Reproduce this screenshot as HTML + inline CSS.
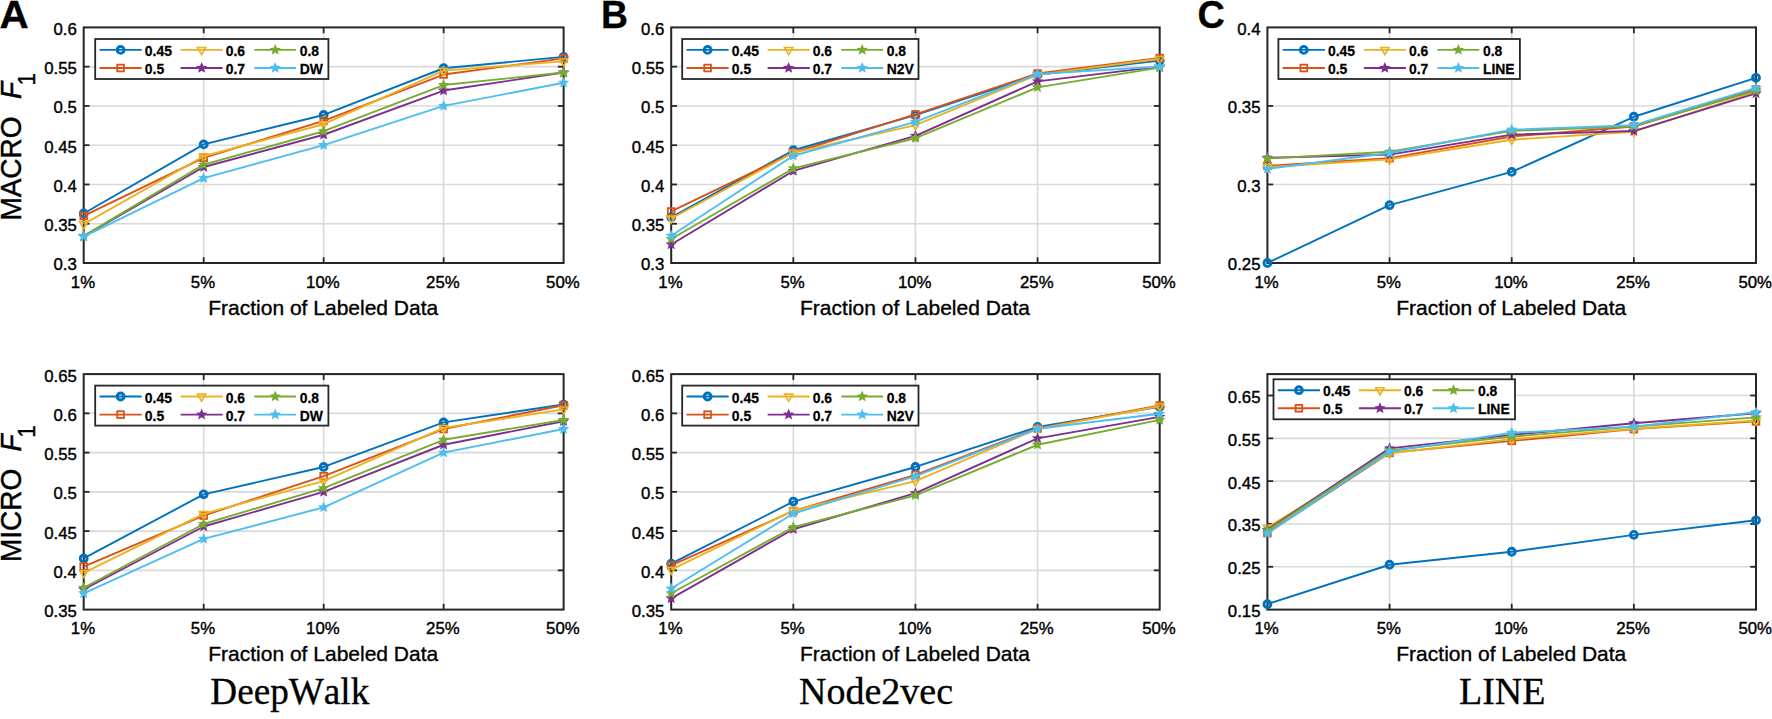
<!DOCTYPE html>
<html><head><meta charset="utf-8"><title>Figure</title>
<style>
html,body{margin:0;padding:0;background:#fff;}
svg{display:block;}
text{font-family:"Liberation Sans",sans-serif;fill:#000;}
.tk{font-size:16.8px;fill:#000;stroke:#000;stroke-width:0.4px;}
.xl{font-size:21px;stroke:#000;stroke-width:0.35px;}
.yl{font-size:28px;white-space:pre;stroke:#000;stroke-width:0.4px;}
.lg{font-size:14.5px;font-weight:bold;stroke:#000;stroke-width:0.25px;}
.pl{font-size:38.2px;font-weight:bold;stroke:#000;stroke-width:0.3px;}
.tt{font-family:"Liberation Serif",serif;font-size:37px;font-kerning:none;stroke:#000;stroke-width:0.3px;}
</style></head><body>
<svg width="1772" height="719" viewBox="0 0 1772 719">
<rect width="1772" height="719" fill="#fff"/>
<line x1="203.68" y1="27.4" x2="203.68" y2="263.0" stroke="#d9d9d9" stroke-width="1.6"/>
<line x1="323.65" y1="27.4" x2="323.65" y2="263.0" stroke="#d9d9d9" stroke-width="1.6"/>
<line x1="443.62" y1="27.4" x2="443.62" y2="263.0" stroke="#d9d9d9" stroke-width="1.6"/>
<line x1="83.7" y1="223.73" x2="563.6" y2="223.73" stroke="#d9d9d9" stroke-width="1.6"/>
<line x1="83.7" y1="184.47" x2="563.6" y2="184.47" stroke="#d9d9d9" stroke-width="1.6"/>
<line x1="83.7" y1="145.20" x2="563.6" y2="145.20" stroke="#d9d9d9" stroke-width="1.6"/>
<line x1="83.7" y1="105.93" x2="563.6" y2="105.93" stroke="#d9d9d9" stroke-width="1.6"/>
<line x1="83.7" y1="66.67" x2="563.6" y2="66.67" stroke="#d9d9d9" stroke-width="1.6"/>
<line x1="203.68" y1="263.0" x2="203.68" y2="257.2" stroke="#262626" stroke-width="1.8"/>
<line x1="203.68" y1="27.4" x2="203.68" y2="33.199999999999996" stroke="#262626" stroke-width="1.8"/>
<line x1="323.65" y1="263.0" x2="323.65" y2="257.2" stroke="#262626" stroke-width="1.8"/>
<line x1="323.65" y1="27.4" x2="323.65" y2="33.199999999999996" stroke="#262626" stroke-width="1.8"/>
<line x1="443.62" y1="263.0" x2="443.62" y2="257.2" stroke="#262626" stroke-width="1.8"/>
<line x1="443.62" y1="27.4" x2="443.62" y2="33.199999999999996" stroke="#262626" stroke-width="1.8"/>
<line x1="83.7" y1="223.73" x2="89.5" y2="223.73" stroke="#262626" stroke-width="1.8"/>
<line x1="563.6" y1="223.73" x2="557.8000000000001" y2="223.73" stroke="#262626" stroke-width="1.8"/>
<line x1="83.7" y1="184.47" x2="89.5" y2="184.47" stroke="#262626" stroke-width="1.8"/>
<line x1="563.6" y1="184.47" x2="557.8000000000001" y2="184.47" stroke="#262626" stroke-width="1.8"/>
<line x1="83.7" y1="145.20" x2="89.5" y2="145.20" stroke="#262626" stroke-width="1.8"/>
<line x1="563.6" y1="145.20" x2="557.8000000000001" y2="145.20" stroke="#262626" stroke-width="1.8"/>
<line x1="83.7" y1="105.93" x2="89.5" y2="105.93" stroke="#262626" stroke-width="1.8"/>
<line x1="563.6" y1="105.93" x2="557.8000000000001" y2="105.93" stroke="#262626" stroke-width="1.8"/>
<line x1="83.7" y1="66.67" x2="89.5" y2="66.67" stroke="#262626" stroke-width="1.8"/>
<line x1="563.6" y1="66.67" x2="557.8000000000001" y2="66.67" stroke="#262626" stroke-width="1.8"/>
<rect x="83.7" y="27.4" width="479.90" height="235.60" fill="none" stroke="#262626" stroke-width="2.0"/>
<text transform="translate(76.85,270.45) scale(1,1.005)" text-anchor="end" class="tk">0.3</text>
<text transform="translate(76.85,231.18) scale(1,1.005)" text-anchor="end" class="tk">0.35</text>
<text transform="translate(76.85,191.92) scale(1,1.005)" text-anchor="end" class="tk">0.4</text>
<text transform="translate(76.85,152.65) scale(1,1.005)" text-anchor="end" class="tk">0.45</text>
<text transform="translate(76.85,113.38) scale(1,1.005)" text-anchor="end" class="tk">0.5</text>
<text transform="translate(76.85,74.12) scale(1,1.005)" text-anchor="end" class="tk">0.55</text>
<text transform="translate(76.85,34.85) scale(1,1.005)" text-anchor="end" class="tk">0.6</text>
<text transform="translate(82.95,287.55) scale(1,0.975)" text-anchor="middle" class="tk">1%</text>
<text transform="translate(202.93,287.55) scale(1,0.975)" text-anchor="middle" class="tk">5%</text>
<text transform="translate(322.90,287.55) scale(1,0.975)" text-anchor="middle" class="tk">10%</text>
<text transform="translate(442.88,287.55) scale(1,0.975)" text-anchor="middle" class="tk">25%</text>
<text transform="translate(562.85,287.55) scale(1,0.975)" text-anchor="middle" class="tk">50%</text>
<text x="323.25" y="314.80" text-anchor="middle" class="xl">Fraction of Labeled Data</text>
<polyline points="83.70,213.52 203.68,144.41 323.65,114.96 443.62,68.24 563.60,56.85" fill="none" stroke="#0072BD" stroke-width="1.9" stroke-linejoin="round"/>
<circle cx="83.70" cy="213.52" r="3.45" fill="none" stroke="#0072BD" stroke-width="2.9"/>
<circle cx="203.68" cy="144.41" r="3.45" fill="none" stroke="#0072BD" stroke-width="2.9"/>
<circle cx="323.65" cy="114.96" r="3.45" fill="none" stroke="#0072BD" stroke-width="2.9"/>
<circle cx="443.62" cy="68.24" r="3.45" fill="none" stroke="#0072BD" stroke-width="2.9"/>
<circle cx="563.60" cy="56.85" r="3.45" fill="none" stroke="#0072BD" stroke-width="2.9"/>
<polyline points="83.70,215.88 203.68,157.77 323.65,120.85 443.62,74.52 563.60,58.42" fill="none" stroke="#D95319" stroke-width="1.9" stroke-linejoin="round"/>
<rect x="80.35" y="212.53" width="6.70" height="6.70" fill="none" stroke="#D95319" stroke-width="1.8"/>
<rect x="200.33" y="154.42" width="6.70" height="6.70" fill="none" stroke="#D95319" stroke-width="1.8"/>
<rect x="320.30" y="117.50" width="6.70" height="6.70" fill="none" stroke="#D95319" stroke-width="1.8"/>
<rect x="440.27" y="71.17" width="6.70" height="6.70" fill="none" stroke="#D95319" stroke-width="1.8"/>
<rect x="560.25" y="55.07" width="6.70" height="6.70" fill="none" stroke="#D95319" stroke-width="1.8"/>
<polyline points="83.70,224.05 203.68,156.27 323.65,124.23 443.62,70.59 563.60,61.33" fill="none" stroke="#EDB120" stroke-width="1.9" stroke-linejoin="round"/>
<polygon points="83.70,228.80 79.59,221.67 87.81,221.67" fill="none" stroke="#EDB120" stroke-width="1.6" stroke-linejoin="miter"/>
<polygon points="203.68,161.02 199.56,153.90 207.79,153.90" fill="none" stroke="#EDB120" stroke-width="1.6" stroke-linejoin="miter"/>
<polygon points="323.65,128.98 319.54,121.86 327.76,121.86" fill="none" stroke="#EDB120" stroke-width="1.6" stroke-linejoin="miter"/>
<polygon points="443.62,75.34 439.51,68.22 447.74,68.22" fill="none" stroke="#EDB120" stroke-width="1.6" stroke-linejoin="miter"/>
<polygon points="563.60,66.08 559.49,58.95 567.71,58.95" fill="none" stroke="#EDB120" stroke-width="1.6" stroke-linejoin="miter"/>
<polyline points="83.70,236.30 203.68,167.03 323.65,134.76 443.62,90.54 563.60,72.56" fill="none" stroke="#7E2F8E" stroke-width="1.9" stroke-linejoin="round"/>
<polygon points="83.70,230.30 85.29,234.11 89.41,234.44 86.27,237.13 87.23,241.15 83.70,239.00 80.17,241.15 81.13,237.13 77.99,234.44 82.11,234.11" fill="#7E2F8E" stroke="none"/>
<polygon points="203.68,161.03 205.26,164.85 209.38,165.18 206.24,167.87 207.20,171.89 203.68,169.73 200.15,171.89 201.11,167.87 197.97,165.18 202.09,164.85" fill="#7E2F8E" stroke="none"/>
<polygon points="323.65,128.76 325.24,132.57 329.36,132.90 326.22,135.59 327.18,139.61 323.65,137.46 320.12,139.61 321.08,135.59 317.94,132.90 322.06,132.57" fill="#7E2F8E" stroke="none"/>
<polygon points="443.62,84.54 445.21,88.36 449.33,88.69 446.19,91.38 447.15,95.39 443.62,93.24 440.10,95.39 441.06,91.38 437.92,88.69 442.04,88.36" fill="#7E2F8E" stroke="none"/>
<polygon points="563.60,66.56 565.19,70.37 569.31,70.70 566.17,73.39 567.13,77.41 563.60,75.26 560.07,77.41 561.03,73.39 557.89,70.70 562.01,70.37" fill="#7E2F8E" stroke="none"/>
<polyline points="83.70,235.91 203.68,164.68 323.65,131.22 443.62,85.04 563.60,72.56" fill="none" stroke="#77AC30" stroke-width="1.9" stroke-linejoin="round"/>
<polygon points="83.70,229.91 85.29,233.72 89.41,234.05 86.27,236.74 87.23,240.76 83.70,238.61 80.17,240.76 81.13,236.74 77.99,234.05 82.11,233.72" fill="#77AC30" stroke="none"/>
<polygon points="203.68,158.68 205.26,162.49 209.38,162.82 206.24,165.51 207.20,169.53 203.68,167.38 200.15,169.53 201.11,165.51 197.97,162.82 202.09,162.49" fill="#77AC30" stroke="none"/>
<polygon points="323.65,125.22 325.24,129.04 329.36,129.37 326.22,132.06 327.18,136.08 323.65,133.92 320.12,136.08 321.08,132.06 317.94,129.37 322.06,129.04" fill="#77AC30" stroke="none"/>
<polygon points="443.62,79.04 445.21,82.86 449.33,83.19 446.19,85.88 447.15,89.90 443.62,87.74 440.10,89.90 441.06,85.88 437.92,83.19 442.04,82.86" fill="#77AC30" stroke="none"/>
<polygon points="563.60,66.56 565.19,70.37 569.31,70.70 566.17,73.39 567.13,77.41 563.60,75.26 560.07,77.41 561.03,73.39 557.89,70.70 562.01,70.37" fill="#77AC30" stroke="none"/>
<polyline points="83.70,236.61 203.68,178.18 323.65,145.20 443.62,105.93 563.60,82.77" fill="none" stroke="#4DBEEE" stroke-width="1.9" stroke-linejoin="round"/>
<polygon points="83.70,230.61 85.29,234.43 89.41,234.76 86.27,237.45 87.23,241.47 83.70,239.31 80.17,241.47 81.13,237.45 77.99,234.76 82.11,234.43" fill="#4DBEEE" stroke="none"/>
<polygon points="203.68,172.18 205.26,176.00 209.38,176.33 206.24,179.02 207.20,183.04 203.68,180.88 200.15,183.04 201.11,179.02 197.97,176.33 202.09,176.00" fill="#4DBEEE" stroke="none"/>
<polygon points="323.65,139.20 325.24,143.02 329.36,143.35 326.22,146.03 327.18,150.05 323.65,147.90 320.12,150.05 321.08,146.03 317.94,143.35 322.06,143.02" fill="#4DBEEE" stroke="none"/>
<polygon points="443.62,99.93 445.21,103.75 449.33,104.08 446.19,106.77 447.15,110.79 443.62,108.63 440.10,110.79 441.06,106.77 437.92,104.08 442.04,103.75" fill="#4DBEEE" stroke="none"/>
<polygon points="563.60,76.77 565.19,80.58 569.31,80.91 566.17,83.60 567.13,87.62 563.60,85.47 560.07,87.62 561.03,83.60 557.89,80.91 562.01,80.58" fill="#4DBEEE" stroke="none"/>
<rect x="95.2" y="39.0" width="233.2" height="40.0" fill="#fff" stroke="#262626" stroke-width="1.8"/>
<line x1="99.50" y1="49.90" x2="141.70" y2="49.90" stroke="#0072BD" stroke-width="1.9"/>
<circle cx="120.60" cy="49.90" r="3.45" fill="none" stroke="#0072BD" stroke-width="2.9"/>
<text transform="translate(144.80,55.90) scale(0.96,1.02)" class="lg">0.45</text>
<line x1="99.50" y1="68.00" x2="141.70" y2="68.00" stroke="#D95319" stroke-width="1.9"/>
<rect x="117.25" y="64.65" width="6.70" height="6.70" fill="none" stroke="#D95319" stroke-width="1.8"/>
<text transform="translate(144.80,74.00) scale(0.96,1.02)" class="lg">0.5</text>
<line x1="180.60" y1="49.90" x2="222.70" y2="49.90" stroke="#EDB120" stroke-width="1.9"/>
<polygon points="201.65,54.65 197.54,47.52 205.76,47.52" fill="none" stroke="#EDB120" stroke-width="1.6" stroke-linejoin="miter"/>
<text transform="translate(225.70,55.90) scale(0.96,1.02)" class="lg">0.6</text>
<line x1="180.60" y1="68.00" x2="222.70" y2="68.00" stroke="#7E2F8E" stroke-width="1.9"/>
<polygon points="201.65,62.00 203.24,65.82 207.36,66.15 204.22,68.83 205.18,72.85 201.65,70.70 198.12,72.85 199.08,68.83 195.94,66.15 200.06,65.82" fill="#7E2F8E" stroke="none"/>
<text transform="translate(225.70,74.00) scale(0.96,1.02)" class="lg">0.7</text>
<line x1="254.30" y1="49.90" x2="296.10" y2="49.90" stroke="#77AC30" stroke-width="1.9"/>
<polygon points="275.20,43.90 276.79,47.72 280.91,48.05 277.77,50.73 278.73,54.75 275.20,52.60 271.67,54.75 272.63,50.73 269.49,48.05 273.61,47.72" fill="#77AC30" stroke="none"/>
<text transform="translate(299.70,55.90) scale(0.96,1.02)" class="lg">0.8</text>
<line x1="254.30" y1="68.00" x2="296.10" y2="68.00" stroke="#4DBEEE" stroke-width="1.9"/>
<polygon points="275.20,62.00 276.79,65.82 280.91,66.15 277.77,68.83 278.73,72.85 275.20,70.70 271.67,72.85 272.63,68.83 269.49,66.15 273.61,65.82" fill="#4DBEEE" stroke="none"/>
<text transform="translate(299.70,74.00) scale(0.96,1.02)" class="lg">DW</text>
<line x1="203.68" y1="374.1" x2="203.68" y2="609.6" stroke="#d9d9d9" stroke-width="1.6"/>
<line x1="323.65" y1="374.1" x2="323.65" y2="609.6" stroke="#d9d9d9" stroke-width="1.6"/>
<line x1="443.62" y1="374.1" x2="443.62" y2="609.6" stroke="#d9d9d9" stroke-width="1.6"/>
<line x1="83.7" y1="570.35" x2="563.6" y2="570.35" stroke="#d9d9d9" stroke-width="1.6"/>
<line x1="83.7" y1="531.10" x2="563.6" y2="531.10" stroke="#d9d9d9" stroke-width="1.6"/>
<line x1="83.7" y1="491.85" x2="563.6" y2="491.85" stroke="#d9d9d9" stroke-width="1.6"/>
<line x1="83.7" y1="452.60" x2="563.6" y2="452.60" stroke="#d9d9d9" stroke-width="1.6"/>
<line x1="83.7" y1="413.35" x2="563.6" y2="413.35" stroke="#d9d9d9" stroke-width="1.6"/>
<line x1="203.68" y1="609.6" x2="203.68" y2="603.8000000000001" stroke="#262626" stroke-width="1.8"/>
<line x1="203.68" y1="374.1" x2="203.68" y2="379.90000000000003" stroke="#262626" stroke-width="1.8"/>
<line x1="323.65" y1="609.6" x2="323.65" y2="603.8000000000001" stroke="#262626" stroke-width="1.8"/>
<line x1="323.65" y1="374.1" x2="323.65" y2="379.90000000000003" stroke="#262626" stroke-width="1.8"/>
<line x1="443.62" y1="609.6" x2="443.62" y2="603.8000000000001" stroke="#262626" stroke-width="1.8"/>
<line x1="443.62" y1="374.1" x2="443.62" y2="379.90000000000003" stroke="#262626" stroke-width="1.8"/>
<line x1="83.7" y1="570.35" x2="89.5" y2="570.35" stroke="#262626" stroke-width="1.8"/>
<line x1="563.6" y1="570.35" x2="557.8000000000001" y2="570.35" stroke="#262626" stroke-width="1.8"/>
<line x1="83.7" y1="531.10" x2="89.5" y2="531.10" stroke="#262626" stroke-width="1.8"/>
<line x1="563.6" y1="531.10" x2="557.8000000000001" y2="531.10" stroke="#262626" stroke-width="1.8"/>
<line x1="83.7" y1="491.85" x2="89.5" y2="491.85" stroke="#262626" stroke-width="1.8"/>
<line x1="563.6" y1="491.85" x2="557.8000000000001" y2="491.85" stroke="#262626" stroke-width="1.8"/>
<line x1="83.7" y1="452.60" x2="89.5" y2="452.60" stroke="#262626" stroke-width="1.8"/>
<line x1="563.6" y1="452.60" x2="557.8000000000001" y2="452.60" stroke="#262626" stroke-width="1.8"/>
<line x1="83.7" y1="413.35" x2="89.5" y2="413.35" stroke="#262626" stroke-width="1.8"/>
<line x1="563.6" y1="413.35" x2="557.8000000000001" y2="413.35" stroke="#262626" stroke-width="1.8"/>
<rect x="83.7" y="374.1" width="479.90" height="235.50" fill="none" stroke="#262626" stroke-width="2.0"/>
<text transform="translate(76.85,617.05) scale(1,1.005)" text-anchor="end" class="tk">0.35</text>
<text transform="translate(76.85,577.80) scale(1,1.005)" text-anchor="end" class="tk">0.4</text>
<text transform="translate(76.85,538.55) scale(1,1.005)" text-anchor="end" class="tk">0.45</text>
<text transform="translate(76.85,499.30) scale(1,1.005)" text-anchor="end" class="tk">0.5</text>
<text transform="translate(76.85,460.05) scale(1,1.005)" text-anchor="end" class="tk">0.55</text>
<text transform="translate(76.85,420.80) scale(1,1.005)" text-anchor="end" class="tk">0.6</text>
<text transform="translate(76.85,381.55) scale(1,1.005)" text-anchor="end" class="tk">0.65</text>
<text transform="translate(82.95,634.15) scale(1,0.975)" text-anchor="middle" class="tk">1%</text>
<text transform="translate(202.93,634.15) scale(1,0.975)" text-anchor="middle" class="tk">5%</text>
<text transform="translate(322.90,634.15) scale(1,0.975)" text-anchor="middle" class="tk">10%</text>
<text transform="translate(442.88,634.15) scale(1,0.975)" text-anchor="middle" class="tk">25%</text>
<text transform="translate(562.85,634.15) scale(1,0.975)" text-anchor="middle" class="tk">50%</text>
<text x="323.25" y="661.40" text-anchor="middle" class="xl">Fraction of Labeled Data</text>
<polyline points="83.70,558.42 203.68,494.36 323.65,466.97 443.62,422.38 563.60,404.56" fill="none" stroke="#0072BD" stroke-width="1.9" stroke-linejoin="round"/>
<circle cx="83.70" cy="558.42" r="3.45" fill="none" stroke="#0072BD" stroke-width="2.9"/>
<circle cx="203.68" cy="494.36" r="3.45" fill="none" stroke="#0072BD" stroke-width="2.9"/>
<circle cx="323.65" cy="466.97" r="3.45" fill="none" stroke="#0072BD" stroke-width="2.9"/>
<circle cx="443.62" cy="422.38" r="3.45" fill="none" stroke="#0072BD" stroke-width="2.9"/>
<circle cx="563.60" cy="404.56" r="3.45" fill="none" stroke="#0072BD" stroke-width="2.9"/>
<polyline points="83.70,566.58 203.68,515.56 323.65,476.15 443.62,429.05 563.60,405.26" fill="none" stroke="#D95319" stroke-width="1.9" stroke-linejoin="round"/>
<rect x="80.35" y="563.23" width="6.70" height="6.70" fill="none" stroke="#D95319" stroke-width="1.8"/>
<rect x="200.33" y="512.21" width="6.70" height="6.70" fill="none" stroke="#D95319" stroke-width="1.8"/>
<rect x="320.30" y="472.80" width="6.70" height="6.70" fill="none" stroke="#D95319" stroke-width="1.8"/>
<rect x="440.27" y="425.70" width="6.70" height="6.70" fill="none" stroke="#D95319" stroke-width="1.8"/>
<rect x="560.25" y="401.91" width="6.70" height="6.70" fill="none" stroke="#D95319" stroke-width="1.8"/>
<polyline points="83.70,572.86 203.68,513.83 323.65,481.10 443.62,427.87 563.60,409.43" fill="none" stroke="#EDB120" stroke-width="1.9" stroke-linejoin="round"/>
<polygon points="83.70,577.61 79.59,570.49 87.81,570.49" fill="none" stroke="#EDB120" stroke-width="1.6" stroke-linejoin="miter"/>
<polygon points="203.68,518.58 199.56,511.46 207.79,511.46" fill="none" stroke="#EDB120" stroke-width="1.6" stroke-linejoin="miter"/>
<polygon points="323.65,485.85 319.54,478.72 327.76,478.72" fill="none" stroke="#EDB120" stroke-width="1.6" stroke-linejoin="miter"/>
<polygon points="443.62,432.62 439.51,425.50 447.74,425.50" fill="none" stroke="#EDB120" stroke-width="1.6" stroke-linejoin="miter"/>
<polygon points="563.60,414.18 559.49,407.05 567.71,407.05" fill="none" stroke="#EDB120" stroke-width="1.6" stroke-linejoin="miter"/>
<polyline points="83.70,589.50 203.68,526.47 323.65,491.85 443.62,444.75 563.60,421.20" fill="none" stroke="#7E2F8E" stroke-width="1.9" stroke-linejoin="round"/>
<polygon points="83.70,583.50 85.29,587.32 89.41,587.65 86.27,590.34 87.23,594.36 83.70,592.20 80.17,594.36 81.13,590.34 77.99,587.65 82.11,587.32" fill="#7E2F8E" stroke="none"/>
<polygon points="203.68,520.47 205.26,524.28 209.38,524.61 206.24,527.30 207.20,531.32 203.68,529.17 200.15,531.32 201.11,527.30 197.97,524.61 202.09,524.28" fill="#7E2F8E" stroke="none"/>
<polygon points="323.65,485.85 325.24,489.67 329.36,490.00 326.22,492.68 327.18,496.70 323.65,494.55 320.12,496.70 321.08,492.68 317.94,490.00 322.06,489.67" fill="#7E2F8E" stroke="none"/>
<polygon points="443.62,438.75 445.21,442.57 449.33,442.90 446.19,445.58 447.15,449.60 443.62,447.45 440.10,449.60 441.06,445.58 437.92,442.90 442.04,442.57" fill="#7E2F8E" stroke="none"/>
<polygon points="563.60,415.20 565.19,419.02 569.31,419.35 566.17,422.03 567.13,426.05 563.60,423.90 560.07,426.05 561.03,422.03 557.89,419.35 562.01,419.02" fill="#7E2F8E" stroke="none"/>
<polyline points="83.70,587.78 203.68,524.03 323.65,488.08 443.62,439.80 563.60,419.94" fill="none" stroke="#77AC30" stroke-width="1.9" stroke-linejoin="round"/>
<polygon points="83.70,581.78 85.29,585.59 89.41,585.92 86.27,588.61 87.23,592.63 83.70,590.48 80.17,592.63 81.13,588.61 77.99,585.92 82.11,585.59" fill="#77AC30" stroke="none"/>
<polygon points="203.68,518.03 205.26,521.85 209.38,522.18 206.24,524.87 207.20,528.89 203.68,526.74 200.15,528.89 201.11,524.87 197.97,522.18 202.09,521.85" fill="#77AC30" stroke="none"/>
<polygon points="323.65,482.08 325.24,485.90 329.36,486.23 326.22,488.92 327.18,492.94 323.65,490.78 320.12,492.94 321.08,488.92 317.94,486.23 322.06,485.90" fill="#77AC30" stroke="none"/>
<polygon points="443.62,433.80 445.21,437.62 449.33,437.95 446.19,440.64 447.15,444.66 443.62,442.50 440.10,444.66 441.06,440.64 437.92,437.95 442.04,437.62" fill="#77AC30" stroke="none"/>
<polygon points="563.60,413.94 565.19,417.76 569.31,418.09 566.17,420.78 567.13,424.80 563.60,422.64 560.07,424.80 561.03,420.78 557.89,418.09 562.01,417.76" fill="#77AC30" stroke="none"/>
<polyline points="83.70,593.27 203.68,538.95 323.65,507.31 443.62,452.60 563.60,429.05" fill="none" stroke="#4DBEEE" stroke-width="1.9" stroke-linejoin="round"/>
<polygon points="83.70,587.27 85.29,591.09 89.41,591.42 86.27,594.11 87.23,598.13 83.70,595.97 80.17,598.13 81.13,594.11 77.99,591.42 82.11,591.09" fill="#4DBEEE" stroke="none"/>
<polygon points="203.68,532.95 205.26,536.77 209.38,537.10 206.24,539.78 207.20,543.80 203.68,541.65 200.15,543.80 201.11,539.78 197.97,537.10 202.09,536.77" fill="#4DBEEE" stroke="none"/>
<polygon points="323.65,501.31 325.24,505.13 329.36,505.46 326.22,508.15 327.18,512.17 323.65,510.01 320.12,512.17 321.08,508.15 317.94,505.46 322.06,505.13" fill="#4DBEEE" stroke="none"/>
<polygon points="443.62,446.60 445.21,450.42 449.33,450.75 446.19,453.43 447.15,457.45 443.62,455.30 440.10,457.45 441.06,453.43 437.92,450.75 442.04,450.42" fill="#4DBEEE" stroke="none"/>
<polygon points="563.60,423.05 565.19,426.87 569.31,427.20 566.17,429.88 567.13,433.90 563.60,431.75 560.07,433.90 561.03,429.88 557.89,427.20 562.01,426.87" fill="#4DBEEE" stroke="none"/>
<rect x="95.2" y="385.6" width="233.2" height="40.0" fill="#fff" stroke="#262626" stroke-width="1.8"/>
<line x1="99.50" y1="396.50" x2="141.70" y2="396.50" stroke="#0072BD" stroke-width="1.9"/>
<circle cx="120.60" cy="396.50" r="3.45" fill="none" stroke="#0072BD" stroke-width="2.9"/>
<text transform="translate(144.80,402.50) scale(0.96,1.02)" class="lg">0.45</text>
<line x1="99.50" y1="414.60" x2="141.70" y2="414.60" stroke="#D95319" stroke-width="1.9"/>
<rect x="117.25" y="411.25" width="6.70" height="6.70" fill="none" stroke="#D95319" stroke-width="1.8"/>
<text transform="translate(144.80,420.60) scale(0.96,1.02)" class="lg">0.5</text>
<line x1="180.60" y1="396.50" x2="222.70" y2="396.50" stroke="#EDB120" stroke-width="1.9"/>
<polygon points="201.65,401.25 197.54,394.12 205.76,394.12" fill="none" stroke="#EDB120" stroke-width="1.6" stroke-linejoin="miter"/>
<text transform="translate(225.70,402.50) scale(0.96,1.02)" class="lg">0.6</text>
<line x1="180.60" y1="414.60" x2="222.70" y2="414.60" stroke="#7E2F8E" stroke-width="1.9"/>
<polygon points="201.65,408.60 203.24,412.42 207.36,412.75 204.22,415.43 205.18,419.45 201.65,417.30 198.12,419.45 199.08,415.43 195.94,412.75 200.06,412.42" fill="#7E2F8E" stroke="none"/>
<text transform="translate(225.70,420.60) scale(0.96,1.02)" class="lg">0.7</text>
<line x1="254.30" y1="396.50" x2="296.10" y2="396.50" stroke="#77AC30" stroke-width="1.9"/>
<polygon points="275.20,390.50 276.79,394.32 280.91,394.65 277.77,397.33 278.73,401.35 275.20,399.20 271.67,401.35 272.63,397.33 269.49,394.65 273.61,394.32" fill="#77AC30" stroke="none"/>
<text transform="translate(299.70,402.50) scale(0.96,1.02)" class="lg">0.8</text>
<line x1="254.30" y1="414.60" x2="296.10" y2="414.60" stroke="#4DBEEE" stroke-width="1.9"/>
<polygon points="275.20,408.60 276.79,412.42 280.91,412.75 277.77,415.43 278.73,419.45 275.20,417.30 271.67,419.45 272.63,415.43 269.49,412.75 273.61,412.42" fill="#4DBEEE" stroke="none"/>
<text transform="translate(299.70,420.60) scale(0.96,1.02)" class="lg">DW</text>
<line x1="793.33" y1="27.4" x2="793.33" y2="263.0" stroke="#d9d9d9" stroke-width="1.6"/>
<line x1="915.45" y1="27.4" x2="915.45" y2="263.0" stroke="#d9d9d9" stroke-width="1.6"/>
<line x1="1037.58" y1="27.4" x2="1037.58" y2="263.0" stroke="#d9d9d9" stroke-width="1.6"/>
<line x1="671.2" y1="223.73" x2="1159.7" y2="223.73" stroke="#d9d9d9" stroke-width="1.6"/>
<line x1="671.2" y1="184.47" x2="1159.7" y2="184.47" stroke="#d9d9d9" stroke-width="1.6"/>
<line x1="671.2" y1="145.20" x2="1159.7" y2="145.20" stroke="#d9d9d9" stroke-width="1.6"/>
<line x1="671.2" y1="105.93" x2="1159.7" y2="105.93" stroke="#d9d9d9" stroke-width="1.6"/>
<line x1="671.2" y1="66.67" x2="1159.7" y2="66.67" stroke="#d9d9d9" stroke-width="1.6"/>
<line x1="793.33" y1="263.0" x2="793.33" y2="257.2" stroke="#262626" stroke-width="1.8"/>
<line x1="793.33" y1="27.4" x2="793.33" y2="33.199999999999996" stroke="#262626" stroke-width="1.8"/>
<line x1="915.45" y1="263.0" x2="915.45" y2="257.2" stroke="#262626" stroke-width="1.8"/>
<line x1="915.45" y1="27.4" x2="915.45" y2="33.199999999999996" stroke="#262626" stroke-width="1.8"/>
<line x1="1037.58" y1="263.0" x2="1037.58" y2="257.2" stroke="#262626" stroke-width="1.8"/>
<line x1="1037.58" y1="27.4" x2="1037.58" y2="33.199999999999996" stroke="#262626" stroke-width="1.8"/>
<line x1="671.2" y1="223.73" x2="677.0" y2="223.73" stroke="#262626" stroke-width="1.8"/>
<line x1="1159.7" y1="223.73" x2="1153.9" y2="223.73" stroke="#262626" stroke-width="1.8"/>
<line x1="671.2" y1="184.47" x2="677.0" y2="184.47" stroke="#262626" stroke-width="1.8"/>
<line x1="1159.7" y1="184.47" x2="1153.9" y2="184.47" stroke="#262626" stroke-width="1.8"/>
<line x1="671.2" y1="145.20" x2="677.0" y2="145.20" stroke="#262626" stroke-width="1.8"/>
<line x1="1159.7" y1="145.20" x2="1153.9" y2="145.20" stroke="#262626" stroke-width="1.8"/>
<line x1="671.2" y1="105.93" x2="677.0" y2="105.93" stroke="#262626" stroke-width="1.8"/>
<line x1="1159.7" y1="105.93" x2="1153.9" y2="105.93" stroke="#262626" stroke-width="1.8"/>
<line x1="671.2" y1="66.67" x2="677.0" y2="66.67" stroke="#262626" stroke-width="1.8"/>
<line x1="1159.7" y1="66.67" x2="1153.9" y2="66.67" stroke="#262626" stroke-width="1.8"/>
<rect x="671.2" y="27.4" width="488.50" height="235.60" fill="none" stroke="#262626" stroke-width="2.0"/>
<text transform="translate(664.35,270.45) scale(1,1.005)" text-anchor="end" class="tk">0.3</text>
<text transform="translate(664.35,231.18) scale(1,1.005)" text-anchor="end" class="tk">0.35</text>
<text transform="translate(664.35,191.92) scale(1,1.005)" text-anchor="end" class="tk">0.4</text>
<text transform="translate(664.35,152.65) scale(1,1.005)" text-anchor="end" class="tk">0.45</text>
<text transform="translate(664.35,113.38) scale(1,1.005)" text-anchor="end" class="tk">0.5</text>
<text transform="translate(664.35,74.12) scale(1,1.005)" text-anchor="end" class="tk">0.55</text>
<text transform="translate(664.35,34.85) scale(1,1.005)" text-anchor="end" class="tk">0.6</text>
<text transform="translate(670.45,287.55) scale(1,0.975)" text-anchor="middle" class="tk">1%</text>
<text transform="translate(792.58,287.55) scale(1,0.975)" text-anchor="middle" class="tk">5%</text>
<text transform="translate(914.70,287.55) scale(1,0.975)" text-anchor="middle" class="tk">10%</text>
<text transform="translate(1036.83,287.55) scale(1,0.975)" text-anchor="middle" class="tk">25%</text>
<text transform="translate(1158.95,287.55) scale(1,0.975)" text-anchor="middle" class="tk">50%</text>
<text x="915.05" y="314.80" text-anchor="middle" class="xl">Fraction of Labeled Data</text>
<polyline points="671.20,217.22 793.33,150.23 915.45,115.20 1037.58,74.91 1159.70,60.62" fill="none" stroke="#0072BD" stroke-width="1.9" stroke-linejoin="round"/>
<circle cx="671.20" cy="217.22" r="3.45" fill="none" stroke="#0072BD" stroke-width="2.9"/>
<circle cx="793.33" cy="150.23" r="3.45" fill="none" stroke="#0072BD" stroke-width="2.9"/>
<circle cx="915.45" cy="115.20" r="3.45" fill="none" stroke="#0072BD" stroke-width="2.9"/>
<circle cx="1037.58" cy="74.91" r="3.45" fill="none" stroke="#0072BD" stroke-width="2.9"/>
<circle cx="1159.70" cy="60.62" r="3.45" fill="none" stroke="#0072BD" stroke-width="2.9"/>
<polyline points="671.20,211.48 793.33,152.74 915.45,114.41 1037.58,73.50 1159.70,58.03" fill="none" stroke="#D95319" stroke-width="1.9" stroke-linejoin="round"/>
<rect x="667.85" y="208.13" width="6.70" height="6.70" fill="none" stroke="#D95319" stroke-width="1.8"/>
<rect x="789.98" y="149.39" width="6.70" height="6.70" fill="none" stroke="#D95319" stroke-width="1.8"/>
<rect x="912.10" y="111.06" width="6.70" height="6.70" fill="none" stroke="#D95319" stroke-width="1.8"/>
<rect x="1034.23" y="70.15" width="6.70" height="6.70" fill="none" stroke="#D95319" stroke-width="1.8"/>
<rect x="1156.35" y="54.68" width="6.70" height="6.70" fill="none" stroke="#D95319" stroke-width="1.8"/>
<polyline points="671.20,218.47 793.33,152.74 915.45,125.17 1037.58,74.91 1159.70,58.81" fill="none" stroke="#EDB120" stroke-width="1.9" stroke-linejoin="round"/>
<polygon points="671.20,223.22 667.09,216.10 675.31,216.10" fill="none" stroke="#EDB120" stroke-width="1.6" stroke-linejoin="miter"/>
<polygon points="793.33,157.49 789.21,150.36 797.44,150.36" fill="none" stroke="#EDB120" stroke-width="1.6" stroke-linejoin="miter"/>
<polygon points="915.45,129.92 911.34,122.80 919.56,122.80" fill="none" stroke="#EDB120" stroke-width="1.6" stroke-linejoin="miter"/>
<polygon points="1037.58,79.66 1033.46,72.54 1041.69,72.54" fill="none" stroke="#EDB120" stroke-width="1.6" stroke-linejoin="miter"/>
<polygon points="1159.70,63.56 1155.59,56.44 1163.81,56.44" fill="none" stroke="#EDB120" stroke-width="1.6" stroke-linejoin="miter"/>
<polyline points="671.20,244.47 793.33,170.96 915.45,135.93 1037.58,81.35 1159.70,66.67" fill="none" stroke="#7E2F8E" stroke-width="1.9" stroke-linejoin="round"/>
<polygon points="671.20,238.47 672.79,242.28 676.91,242.61 673.77,245.30 674.73,249.32 671.20,247.17 667.67,249.32 668.63,245.30 665.49,242.61 669.61,242.28" fill="#7E2F8E" stroke="none"/>
<polygon points="793.33,164.96 794.91,168.77 799.03,169.10 795.89,171.79 796.85,175.81 793.33,173.66 789.80,175.81 790.76,171.79 787.62,169.10 791.74,168.77" fill="#7E2F8E" stroke="none"/>
<polygon points="915.45,129.93 917.04,133.75 921.16,134.08 918.02,136.77 918.98,140.79 915.45,138.63 911.92,140.79 912.88,136.77 909.74,134.08 913.86,133.75" fill="#7E2F8E" stroke="none"/>
<polygon points="1037.58,75.35 1039.16,79.17 1043.28,79.50 1040.14,82.19 1041.10,86.21 1037.58,84.05 1034.05,86.21 1035.01,82.19 1031.87,79.50 1035.99,79.17" fill="#7E2F8E" stroke="none"/>
<polygon points="1159.70,60.67 1161.29,64.48 1165.41,64.81 1162.27,67.50 1163.23,71.52 1159.70,69.37 1156.17,71.52 1157.13,67.50 1153.99,64.81 1158.11,64.48" fill="#7E2F8E" stroke="none"/>
<polyline points="671.20,238.97 793.33,168.45 915.45,138.21 1037.58,87.40 1159.70,67.61" fill="none" stroke="#77AC30" stroke-width="1.9" stroke-linejoin="round"/>
<polygon points="671.20,232.97 672.79,236.78 676.91,237.11 673.77,239.80 674.73,243.82 671.20,241.67 667.67,243.82 668.63,239.80 665.49,237.11 669.61,236.78" fill="#77AC30" stroke="none"/>
<polygon points="793.33,162.45 794.91,166.26 799.03,166.59 795.89,169.28 796.85,173.30 793.33,171.15 789.80,173.30 790.76,169.28 787.62,166.59 791.74,166.26" fill="#77AC30" stroke="none"/>
<polygon points="915.45,132.21 917.04,136.03 921.16,136.36 918.02,139.04 918.98,143.06 915.45,140.91 911.92,143.06 912.88,139.04 909.74,136.36 913.86,136.03" fill="#77AC30" stroke="none"/>
<polygon points="1037.58,81.40 1039.16,85.22 1043.28,85.55 1040.14,88.23 1041.10,92.25 1037.58,90.10 1034.05,92.25 1035.01,88.23 1031.87,85.55 1035.99,85.22" fill="#77AC30" stroke="none"/>
<polygon points="1159.70,61.61 1161.29,65.42 1165.41,65.75 1162.27,68.44 1163.23,72.46 1159.70,70.31 1156.17,72.46 1157.13,68.44 1153.99,65.75 1158.11,65.42" fill="#77AC30" stroke="none"/>
<polyline points="671.20,235.75 793.33,155.72 915.45,121.95 1037.58,74.05 1159.70,66.67" fill="none" stroke="#4DBEEE" stroke-width="1.9" stroke-linejoin="round"/>
<polygon points="671.20,229.75 672.79,233.56 676.91,233.89 673.77,236.58 674.73,240.60 671.20,238.45 667.67,240.60 668.63,236.58 665.49,233.89 669.61,233.56" fill="#4DBEEE" stroke="none"/>
<polygon points="793.33,149.72 794.91,153.54 799.03,153.87 795.89,156.56 796.85,160.58 793.33,158.42 789.80,160.58 790.76,156.56 787.62,153.87 791.74,153.54" fill="#4DBEEE" stroke="none"/>
<polygon points="915.45,115.95 917.04,119.77 921.16,120.10 918.02,122.79 918.98,126.81 915.45,124.65 911.92,126.81 912.88,122.79 909.74,120.10 913.86,119.77" fill="#4DBEEE" stroke="none"/>
<polygon points="1037.58,68.05 1039.16,71.86 1043.28,72.19 1040.14,74.88 1041.10,78.90 1037.58,76.75 1034.05,78.90 1035.01,74.88 1031.87,72.19 1035.99,71.86" fill="#4DBEEE" stroke="none"/>
<polygon points="1159.70,60.67 1161.29,64.48 1165.41,64.81 1162.27,67.50 1163.23,71.52 1159.70,69.37 1156.17,71.52 1157.13,67.50 1153.99,64.81 1158.11,64.48" fill="#4DBEEE" stroke="none"/>
<rect x="682.2" y="39.0" width="236.3" height="40.0" fill="#fff" stroke="#262626" stroke-width="1.8"/>
<line x1="686.50" y1="49.90" x2="728.70" y2="49.90" stroke="#0072BD" stroke-width="1.9"/>
<circle cx="707.60" cy="49.90" r="3.45" fill="none" stroke="#0072BD" stroke-width="2.9"/>
<text transform="translate(731.80,55.90) scale(0.96,1.02)" class="lg">0.45</text>
<line x1="686.50" y1="68.00" x2="728.70" y2="68.00" stroke="#D95319" stroke-width="1.9"/>
<rect x="704.25" y="64.65" width="6.70" height="6.70" fill="none" stroke="#D95319" stroke-width="1.8"/>
<text transform="translate(731.80,74.00) scale(0.96,1.02)" class="lg">0.5</text>
<line x1="767.60" y1="49.90" x2="809.70" y2="49.90" stroke="#EDB120" stroke-width="1.9"/>
<polygon points="788.65,54.65 784.54,47.52 792.76,47.52" fill="none" stroke="#EDB120" stroke-width="1.6" stroke-linejoin="miter"/>
<text transform="translate(812.70,55.90) scale(0.96,1.02)" class="lg">0.6</text>
<line x1="767.60" y1="68.00" x2="809.70" y2="68.00" stroke="#7E2F8E" stroke-width="1.9"/>
<polygon points="788.65,62.00 790.24,65.82 794.36,66.15 791.22,68.83 792.18,72.85 788.65,70.70 785.12,72.85 786.08,68.83 782.94,66.15 787.06,65.82" fill="#7E2F8E" stroke="none"/>
<text transform="translate(812.70,74.00) scale(0.96,1.02)" class="lg">0.7</text>
<line x1="841.30" y1="49.90" x2="883.10" y2="49.90" stroke="#77AC30" stroke-width="1.9"/>
<polygon points="862.20,43.90 863.79,47.72 867.91,48.05 864.77,50.73 865.73,54.75 862.20,52.60 858.67,54.75 859.63,50.73 856.49,48.05 860.61,47.72" fill="#77AC30" stroke="none"/>
<text transform="translate(886.70,55.90) scale(0.96,1.02)" class="lg">0.8</text>
<line x1="841.30" y1="68.00" x2="883.10" y2="68.00" stroke="#4DBEEE" stroke-width="1.9"/>
<polygon points="862.20,62.00 863.79,65.82 867.91,66.15 864.77,68.83 865.73,72.85 862.20,70.70 858.67,72.85 859.63,68.83 856.49,66.15 860.61,65.82" fill="#4DBEEE" stroke="none"/>
<text transform="translate(886.70,74.00) scale(0.96,1.02)" class="lg">N2V</text>
<line x1="793.33" y1="374.1" x2="793.33" y2="609.6" stroke="#d9d9d9" stroke-width="1.6"/>
<line x1="915.45" y1="374.1" x2="915.45" y2="609.6" stroke="#d9d9d9" stroke-width="1.6"/>
<line x1="1037.58" y1="374.1" x2="1037.58" y2="609.6" stroke="#d9d9d9" stroke-width="1.6"/>
<line x1="671.2" y1="570.35" x2="1159.7" y2="570.35" stroke="#d9d9d9" stroke-width="1.6"/>
<line x1="671.2" y1="531.10" x2="1159.7" y2="531.10" stroke="#d9d9d9" stroke-width="1.6"/>
<line x1="671.2" y1="491.85" x2="1159.7" y2="491.85" stroke="#d9d9d9" stroke-width="1.6"/>
<line x1="671.2" y1="452.60" x2="1159.7" y2="452.60" stroke="#d9d9d9" stroke-width="1.6"/>
<line x1="671.2" y1="413.35" x2="1159.7" y2="413.35" stroke="#d9d9d9" stroke-width="1.6"/>
<line x1="793.33" y1="609.6" x2="793.33" y2="603.8000000000001" stroke="#262626" stroke-width="1.8"/>
<line x1="793.33" y1="374.1" x2="793.33" y2="379.90000000000003" stroke="#262626" stroke-width="1.8"/>
<line x1="915.45" y1="609.6" x2="915.45" y2="603.8000000000001" stroke="#262626" stroke-width="1.8"/>
<line x1="915.45" y1="374.1" x2="915.45" y2="379.90000000000003" stroke="#262626" stroke-width="1.8"/>
<line x1="1037.58" y1="609.6" x2="1037.58" y2="603.8000000000001" stroke="#262626" stroke-width="1.8"/>
<line x1="1037.58" y1="374.1" x2="1037.58" y2="379.90000000000003" stroke="#262626" stroke-width="1.8"/>
<line x1="671.2" y1="570.35" x2="677.0" y2="570.35" stroke="#262626" stroke-width="1.8"/>
<line x1="1159.7" y1="570.35" x2="1153.9" y2="570.35" stroke="#262626" stroke-width="1.8"/>
<line x1="671.2" y1="531.10" x2="677.0" y2="531.10" stroke="#262626" stroke-width="1.8"/>
<line x1="1159.7" y1="531.10" x2="1153.9" y2="531.10" stroke="#262626" stroke-width="1.8"/>
<line x1="671.2" y1="491.85" x2="677.0" y2="491.85" stroke="#262626" stroke-width="1.8"/>
<line x1="1159.7" y1="491.85" x2="1153.9" y2="491.85" stroke="#262626" stroke-width="1.8"/>
<line x1="671.2" y1="452.60" x2="677.0" y2="452.60" stroke="#262626" stroke-width="1.8"/>
<line x1="1159.7" y1="452.60" x2="1153.9" y2="452.60" stroke="#262626" stroke-width="1.8"/>
<line x1="671.2" y1="413.35" x2="677.0" y2="413.35" stroke="#262626" stroke-width="1.8"/>
<line x1="1159.7" y1="413.35" x2="1153.9" y2="413.35" stroke="#262626" stroke-width="1.8"/>
<rect x="671.2" y="374.1" width="488.50" height="235.50" fill="none" stroke="#262626" stroke-width="2.0"/>
<text transform="translate(664.35,617.05) scale(1,1.005)" text-anchor="end" class="tk">0.35</text>
<text transform="translate(664.35,577.80) scale(1,1.005)" text-anchor="end" class="tk">0.4</text>
<text transform="translate(664.35,538.55) scale(1,1.005)" text-anchor="end" class="tk">0.45</text>
<text transform="translate(664.35,499.30) scale(1,1.005)" text-anchor="end" class="tk">0.5</text>
<text transform="translate(664.35,460.05) scale(1,1.005)" text-anchor="end" class="tk">0.55</text>
<text transform="translate(664.35,420.80) scale(1,1.005)" text-anchor="end" class="tk">0.6</text>
<text transform="translate(664.35,381.55) scale(1,1.005)" text-anchor="end" class="tk">0.65</text>
<text transform="translate(670.45,634.15) scale(1,0.975)" text-anchor="middle" class="tk">1%</text>
<text transform="translate(792.58,634.15) scale(1,0.975)" text-anchor="middle" class="tk">5%</text>
<text transform="translate(914.70,634.15) scale(1,0.975)" text-anchor="middle" class="tk">10%</text>
<text transform="translate(1036.83,634.15) scale(1,0.975)" text-anchor="middle" class="tk">25%</text>
<text transform="translate(1158.95,634.15) scale(1,0.975)" text-anchor="middle" class="tk">50%</text>
<text x="915.05" y="661.40" text-anchor="middle" class="xl">Fraction of Labeled Data</text>
<polyline points="671.20,563.60 793.33,501.58 915.45,466.97 1037.58,426.93 1159.70,406.76" fill="none" stroke="#0072BD" stroke-width="1.9" stroke-linejoin="round"/>
<circle cx="671.20" cy="563.60" r="3.45" fill="none" stroke="#0072BD" stroke-width="2.9"/>
<circle cx="793.33" cy="501.58" r="3.45" fill="none" stroke="#0072BD" stroke-width="2.9"/>
<circle cx="915.45" cy="466.97" r="3.45" fill="none" stroke="#0072BD" stroke-width="2.9"/>
<circle cx="1037.58" cy="426.93" r="3.45" fill="none" stroke="#0072BD" stroke-width="2.9"/>
<circle cx="1159.70" cy="406.76" r="3.45" fill="none" stroke="#0072BD" stroke-width="2.9"/>
<polyline points="671.20,565.40 793.33,511.00 915.45,474.89 1037.58,428.42 1159.70,405.50" fill="none" stroke="#D95319" stroke-width="1.9" stroke-linejoin="round"/>
<rect x="667.85" y="562.05" width="6.70" height="6.70" fill="none" stroke="#D95319" stroke-width="1.8"/>
<rect x="789.98" y="507.65" width="6.70" height="6.70" fill="none" stroke="#D95319" stroke-width="1.8"/>
<rect x="912.10" y="471.54" width="6.70" height="6.70" fill="none" stroke="#D95319" stroke-width="1.8"/>
<rect x="1034.23" y="425.07" width="6.70" height="6.70" fill="none" stroke="#D95319" stroke-width="1.8"/>
<rect x="1156.35" y="402.15" width="6.70" height="6.70" fill="none" stroke="#D95319" stroke-width="1.8"/>
<polyline points="671.20,569.56 793.33,510.53 915.45,481.10 1037.58,428.81 1159.70,406.21" fill="none" stroke="#EDB120" stroke-width="1.9" stroke-linejoin="round"/>
<polygon points="671.20,574.31 667.09,567.19 675.31,567.19" fill="none" stroke="#EDB120" stroke-width="1.6" stroke-linejoin="miter"/>
<polygon points="793.33,515.28 789.21,508.16 797.44,508.16" fill="none" stroke="#EDB120" stroke-width="1.6" stroke-linejoin="miter"/>
<polygon points="915.45,485.85 911.34,478.72 919.56,478.72" fill="none" stroke="#EDB120" stroke-width="1.6" stroke-linejoin="miter"/>
<polygon points="1037.58,433.56 1033.46,426.44 1041.69,426.44" fill="none" stroke="#EDB120" stroke-width="1.6" stroke-linejoin="miter"/>
<polygon points="1159.70,410.96 1155.59,403.83 1163.81,403.83" fill="none" stroke="#EDB120" stroke-width="1.6" stroke-linejoin="miter"/>
<polyline points="671.20,598.30 793.33,529.22 915.45,493.11 1037.58,438.39 1159.70,416.88" fill="none" stroke="#7E2F8E" stroke-width="1.9" stroke-linejoin="round"/>
<polygon points="671.20,592.30 672.79,596.11 676.91,596.44 673.77,599.13 674.73,603.15 671.20,601.00 667.67,603.15 668.63,599.13 665.49,596.44 669.61,596.11" fill="#7E2F8E" stroke="none"/>
<polygon points="793.33,523.22 794.91,527.03 799.03,527.36 795.89,530.05 796.85,534.07 793.33,531.92 789.80,534.07 790.76,530.05 787.62,527.36 791.74,527.03" fill="#7E2F8E" stroke="none"/>
<polygon points="915.45,487.11 917.04,490.92 921.16,491.25 918.02,493.94 918.98,497.96 915.45,495.81 911.92,497.96 912.88,493.94 909.74,491.25 913.86,490.92" fill="#7E2F8E" stroke="none"/>
<polygon points="1037.58,432.39 1039.16,436.21 1043.28,436.54 1040.14,439.23 1041.10,443.25 1037.58,441.09 1034.05,443.25 1035.01,439.23 1031.87,436.54 1035.99,436.21" fill="#7E2F8E" stroke="none"/>
<polygon points="1159.70,410.88 1161.29,414.70 1165.41,415.03 1162.27,417.72 1163.23,421.74 1159.70,419.58 1156.17,421.74 1157.13,417.72 1153.99,415.03 1158.11,414.70" fill="#7E2F8E" stroke="none"/>
<polyline points="671.20,593.27 793.33,527.25 915.45,495.30 1037.58,444.75 1159.70,419.94" fill="none" stroke="#77AC30" stroke-width="1.9" stroke-linejoin="round"/>
<polygon points="671.20,587.27 672.79,591.09 676.91,591.42 673.77,594.11 674.73,598.13 671.20,595.97 667.67,598.13 668.63,594.11 665.49,591.42 669.61,591.09" fill="#77AC30" stroke="none"/>
<polygon points="793.33,521.25 794.91,525.07 799.03,525.40 795.89,528.09 796.85,532.11 793.33,529.95 789.80,532.11 790.76,528.09 787.62,525.40 791.74,525.07" fill="#77AC30" stroke="none"/>
<polygon points="915.45,489.30 917.04,493.12 921.16,493.45 918.02,496.14 918.98,500.16 915.45,498.00 911.92,500.16 912.88,496.14 909.74,493.45 913.86,493.12" fill="#77AC30" stroke="none"/>
<polygon points="1037.58,438.75 1039.16,442.57 1043.28,442.90 1040.14,445.58 1041.10,449.60 1037.58,447.45 1034.05,449.60 1035.01,445.58 1031.87,442.90 1035.99,442.57" fill="#77AC30" stroke="none"/>
<polygon points="1159.70,413.94 1161.29,417.76 1165.41,418.09 1162.27,420.78 1163.23,424.80 1159.70,422.64 1156.17,424.80 1157.13,420.78 1153.99,418.09 1158.11,417.76" fill="#77AC30" stroke="none"/>
<polyline points="671.20,588.56 793.33,513.52 915.45,476.15 1037.58,428.81 1159.70,413.74" fill="none" stroke="#4DBEEE" stroke-width="1.9" stroke-linejoin="round"/>
<polygon points="671.20,582.56 672.79,586.38 676.91,586.71 673.77,589.40 674.73,593.42 671.20,591.26 667.67,593.42 668.63,589.40 665.49,586.71 669.61,586.38" fill="#4DBEEE" stroke="none"/>
<polygon points="793.33,507.52 794.91,511.33 799.03,511.66 795.89,514.35 796.85,518.37 793.33,516.22 789.80,518.37 790.76,514.35 787.62,511.66 791.74,511.33" fill="#4DBEEE" stroke="none"/>
<polygon points="915.45,470.15 917.04,473.97 921.16,474.30 918.02,476.98 918.98,481.00 915.45,478.85 911.92,481.00 912.88,476.98 909.74,474.30 913.86,473.97" fill="#4DBEEE" stroke="none"/>
<polygon points="1037.58,422.81 1039.16,426.63 1043.28,426.96 1040.14,429.65 1041.10,433.67 1037.58,431.51 1034.05,433.67 1035.01,429.65 1031.87,426.96 1035.99,426.63" fill="#4DBEEE" stroke="none"/>
<polygon points="1159.70,407.74 1161.29,411.56 1165.41,411.89 1162.27,414.58 1163.23,418.60 1159.70,416.44 1156.17,418.60 1157.13,414.58 1153.99,411.89 1158.11,411.56" fill="#4DBEEE" stroke="none"/>
<rect x="682.2" y="385.6" width="236.3" height="40.0" fill="#fff" stroke="#262626" stroke-width="1.8"/>
<line x1="686.50" y1="396.50" x2="728.70" y2="396.50" stroke="#0072BD" stroke-width="1.9"/>
<circle cx="707.60" cy="396.50" r="3.45" fill="none" stroke="#0072BD" stroke-width="2.9"/>
<text transform="translate(731.80,402.50) scale(0.96,1.02)" class="lg">0.45</text>
<line x1="686.50" y1="414.60" x2="728.70" y2="414.60" stroke="#D95319" stroke-width="1.9"/>
<rect x="704.25" y="411.25" width="6.70" height="6.70" fill="none" stroke="#D95319" stroke-width="1.8"/>
<text transform="translate(731.80,420.60) scale(0.96,1.02)" class="lg">0.5</text>
<line x1="767.60" y1="396.50" x2="809.70" y2="396.50" stroke="#EDB120" stroke-width="1.9"/>
<polygon points="788.65,401.25 784.54,394.12 792.76,394.12" fill="none" stroke="#EDB120" stroke-width="1.6" stroke-linejoin="miter"/>
<text transform="translate(812.70,402.50) scale(0.96,1.02)" class="lg">0.6</text>
<line x1="767.60" y1="414.60" x2="809.70" y2="414.60" stroke="#7E2F8E" stroke-width="1.9"/>
<polygon points="788.65,408.60 790.24,412.42 794.36,412.75 791.22,415.43 792.18,419.45 788.65,417.30 785.12,419.45 786.08,415.43 782.94,412.75 787.06,412.42" fill="#7E2F8E" stroke="none"/>
<text transform="translate(812.70,420.60) scale(0.96,1.02)" class="lg">0.7</text>
<line x1="841.30" y1="396.50" x2="883.10" y2="396.50" stroke="#77AC30" stroke-width="1.9"/>
<polygon points="862.20,390.50 863.79,394.32 867.91,394.65 864.77,397.33 865.73,401.35 862.20,399.20 858.67,401.35 859.63,397.33 856.49,394.65 860.61,394.32" fill="#77AC30" stroke="none"/>
<text transform="translate(886.70,402.50) scale(0.96,1.02)" class="lg">0.8</text>
<line x1="841.30" y1="414.60" x2="883.10" y2="414.60" stroke="#4DBEEE" stroke-width="1.9"/>
<polygon points="862.20,408.60 863.79,412.42 867.91,412.75 864.77,415.43 865.73,419.45 862.20,417.30 858.67,419.45 859.63,415.43 856.49,412.75 860.61,412.42" fill="#4DBEEE" stroke="none"/>
<text transform="translate(886.70,420.60) scale(0.96,1.02)" class="lg">N2V</text>
<line x1="1389.55" y1="27.4" x2="1389.55" y2="263.0" stroke="#d9d9d9" stroke-width="1.6"/>
<line x1="1511.70" y1="27.4" x2="1511.70" y2="263.0" stroke="#d9d9d9" stroke-width="1.6"/>
<line x1="1633.85" y1="27.4" x2="1633.85" y2="263.0" stroke="#d9d9d9" stroke-width="1.6"/>
<line x1="1267.4" y1="184.47" x2="1756.0" y2="184.47" stroke="#d9d9d9" stroke-width="1.6"/>
<line x1="1267.4" y1="105.93" x2="1756.0" y2="105.93" stroke="#d9d9d9" stroke-width="1.6"/>
<line x1="1389.55" y1="263.0" x2="1389.55" y2="257.2" stroke="#262626" stroke-width="1.8"/>
<line x1="1389.55" y1="27.4" x2="1389.55" y2="33.199999999999996" stroke="#262626" stroke-width="1.8"/>
<line x1="1511.70" y1="263.0" x2="1511.70" y2="257.2" stroke="#262626" stroke-width="1.8"/>
<line x1="1511.70" y1="27.4" x2="1511.70" y2="33.199999999999996" stroke="#262626" stroke-width="1.8"/>
<line x1="1633.85" y1="263.0" x2="1633.85" y2="257.2" stroke="#262626" stroke-width="1.8"/>
<line x1="1633.85" y1="27.4" x2="1633.85" y2="33.199999999999996" stroke="#262626" stroke-width="1.8"/>
<line x1="1267.4" y1="184.47" x2="1273.2" y2="184.47" stroke="#262626" stroke-width="1.8"/>
<line x1="1756.0" y1="184.47" x2="1750.2" y2="184.47" stroke="#262626" stroke-width="1.8"/>
<line x1="1267.4" y1="105.93" x2="1273.2" y2="105.93" stroke="#262626" stroke-width="1.8"/>
<line x1="1756.0" y1="105.93" x2="1750.2" y2="105.93" stroke="#262626" stroke-width="1.8"/>
<rect x="1267.4" y="27.4" width="488.60" height="235.60" fill="none" stroke="#262626" stroke-width="2.0"/>
<text transform="translate(1260.55,270.45) scale(1,1.005)" text-anchor="end" class="tk">0.25</text>
<text transform="translate(1260.55,191.92) scale(1,1.005)" text-anchor="end" class="tk">0.3</text>
<text transform="translate(1260.55,113.38) scale(1,1.005)" text-anchor="end" class="tk">0.35</text>
<text transform="translate(1260.55,34.85) scale(1,1.005)" text-anchor="end" class="tk">0.4</text>
<text transform="translate(1266.65,287.55) scale(1,0.975)" text-anchor="middle" class="tk">1%</text>
<text transform="translate(1388.80,287.55) scale(1,0.975)" text-anchor="middle" class="tk">5%</text>
<text transform="translate(1510.95,287.55) scale(1,0.975)" text-anchor="middle" class="tk">10%</text>
<text transform="translate(1633.10,287.55) scale(1,0.975)" text-anchor="middle" class="tk">25%</text>
<text transform="translate(1755.25,287.55) scale(1,0.975)" text-anchor="middle" class="tk">50%</text>
<text x="1511.30" y="314.80" text-anchor="middle" class="xl">Fraction of Labeled Data</text>
<polyline points="1267.40,263.00 1389.55,205.20 1511.70,171.90 1633.85,116.77 1756.00,77.82" fill="none" stroke="#0072BD" stroke-width="1.9" stroke-linejoin="round"/>
<circle cx="1267.40" cy="263.00" r="3.45" fill="none" stroke="#0072BD" stroke-width="2.9"/>
<circle cx="1389.55" cy="205.20" r="3.45" fill="none" stroke="#0072BD" stroke-width="2.9"/>
<circle cx="1511.70" cy="171.90" r="3.45" fill="none" stroke="#0072BD" stroke-width="2.9"/>
<circle cx="1633.85" cy="116.77" r="3.45" fill="none" stroke="#0072BD" stroke-width="2.9"/>
<circle cx="1756.00" cy="77.82" r="3.45" fill="none" stroke="#0072BD" stroke-width="2.9"/>
<polyline points="1267.40,165.78 1389.55,158.08 1511.70,136.56 1633.85,126.51 1756.00,89.44" fill="none" stroke="#D95319" stroke-width="1.9" stroke-linejoin="round"/>
<rect x="1264.05" y="162.43" width="6.70" height="6.70" fill="none" stroke="#D95319" stroke-width="1.8"/>
<rect x="1386.20" y="154.73" width="6.70" height="6.70" fill="none" stroke="#D95319" stroke-width="1.8"/>
<rect x="1508.35" y="133.21" width="6.70" height="6.70" fill="none" stroke="#D95319" stroke-width="1.8"/>
<rect x="1630.50" y="123.16" width="6.70" height="6.70" fill="none" stroke="#D95319" stroke-width="1.8"/>
<rect x="1752.65" y="86.09" width="6.70" height="6.70" fill="none" stroke="#D95319" stroke-width="1.8"/>
<polyline points="1267.40,167.19 1389.55,159.34 1511.70,139.70 1633.85,131.69 1756.00,91.95" fill="none" stroke="#EDB120" stroke-width="1.9" stroke-linejoin="round"/>
<polygon points="1267.40,171.94 1263.29,164.81 1271.51,164.81" fill="none" stroke="#EDB120" stroke-width="1.6" stroke-linejoin="miter"/>
<polygon points="1389.55,164.09 1385.44,156.96 1393.66,156.96" fill="none" stroke="#EDB120" stroke-width="1.6" stroke-linejoin="miter"/>
<polygon points="1511.70,144.45 1507.59,137.33 1515.81,137.33" fill="none" stroke="#EDB120" stroke-width="1.6" stroke-linejoin="miter"/>
<polygon points="1633.85,136.44 1629.74,129.32 1637.96,129.32" fill="none" stroke="#EDB120" stroke-width="1.6" stroke-linejoin="miter"/>
<polygon points="1756.00,96.70 1751.89,89.58 1760.11,89.58" fill="none" stroke="#EDB120" stroke-width="1.6" stroke-linejoin="miter"/>
<polyline points="1267.40,157.77 1389.55,154.62 1511.70,134.68 1633.85,131.06 1756.00,93.37" fill="none" stroke="#7E2F8E" stroke-width="1.9" stroke-linejoin="round"/>
<polygon points="1267.40,151.77 1268.99,155.58 1273.11,155.91 1269.97,158.60 1270.93,162.62 1267.40,160.47 1263.87,162.62 1264.83,158.60 1261.69,155.91 1265.81,155.58" fill="#7E2F8E" stroke="none"/>
<polygon points="1389.55,148.62 1391.14,152.44 1395.26,152.77 1392.12,155.46 1393.08,159.48 1389.55,157.32 1386.02,159.48 1386.98,155.46 1383.84,152.77 1387.96,152.44" fill="#7E2F8E" stroke="none"/>
<polygon points="1511.70,128.68 1513.29,132.49 1517.41,132.82 1514.27,135.51 1515.23,139.53 1511.70,137.38 1508.17,139.53 1509.13,135.51 1505.99,132.82 1510.11,132.49" fill="#7E2F8E" stroke="none"/>
<polygon points="1633.85,125.06 1635.44,128.88 1639.56,129.21 1636.42,131.90 1637.38,135.92 1633.85,133.76 1630.32,135.92 1631.28,131.90 1628.14,129.21 1632.26,128.88" fill="#7E2F8E" stroke="none"/>
<polygon points="1756.00,87.37 1757.59,91.18 1761.71,91.51 1758.57,94.20 1759.53,98.22 1756.00,96.07 1752.47,98.22 1753.43,94.20 1750.29,91.51 1754.41,91.18" fill="#7E2F8E" stroke="none"/>
<polyline points="1267.40,158.55 1389.55,151.80 1511.70,130.91 1633.85,126.19 1756.00,90.70" fill="none" stroke="#77AC30" stroke-width="1.9" stroke-linejoin="round"/>
<polygon points="1267.40,152.55 1268.99,156.37 1273.11,156.70 1269.97,159.39 1270.93,163.40 1267.40,161.25 1263.87,163.40 1264.83,159.39 1261.69,156.70 1265.81,156.37" fill="#77AC30" stroke="none"/>
<polygon points="1389.55,145.80 1391.14,149.61 1395.26,149.94 1392.12,152.63 1393.08,156.65 1389.55,154.50 1386.02,156.65 1386.98,152.63 1383.84,149.94 1387.96,149.61" fill="#77AC30" stroke="none"/>
<polygon points="1511.70,124.91 1513.29,128.72 1517.41,129.05 1514.27,131.74 1515.23,135.76 1511.70,133.61 1508.17,135.76 1509.13,131.74 1505.99,129.05 1510.11,128.72" fill="#77AC30" stroke="none"/>
<polygon points="1633.85,120.19 1635.44,124.01 1639.56,124.34 1636.42,127.03 1637.38,131.05 1633.85,128.89 1630.32,131.05 1631.28,127.03 1628.14,124.34 1632.26,124.01" fill="#77AC30" stroke="none"/>
<polygon points="1756.00,84.70 1757.59,88.51 1761.71,88.84 1758.57,91.53 1759.53,95.55 1756.00,93.40 1752.47,95.55 1753.43,91.53 1750.29,88.84 1754.41,88.51" fill="#77AC30" stroke="none"/>
<polyline points="1267.40,168.92 1389.55,153.05 1511.70,129.65 1633.85,125.10 1756.00,87.87" fill="none" stroke="#4DBEEE" stroke-width="1.9" stroke-linejoin="round"/>
<polygon points="1267.40,162.92 1268.99,166.73 1273.11,167.06 1269.97,169.75 1270.93,173.77 1267.40,171.62 1263.87,173.77 1264.83,169.75 1261.69,167.06 1265.81,166.73" fill="#4DBEEE" stroke="none"/>
<polygon points="1389.55,147.05 1391.14,150.87 1395.26,151.20 1392.12,153.89 1393.08,157.91 1389.55,155.75 1386.02,157.91 1386.98,153.89 1383.84,151.20 1387.96,150.87" fill="#4DBEEE" stroke="none"/>
<polygon points="1511.70,123.65 1513.29,127.47 1517.41,127.80 1514.27,130.48 1515.23,134.50 1511.70,132.35 1508.17,134.50 1509.13,130.48 1505.99,127.80 1510.11,127.47" fill="#4DBEEE" stroke="none"/>
<polygon points="1633.85,119.10 1635.44,122.91 1639.56,123.24 1636.42,125.93 1637.38,129.95 1633.85,127.80 1630.32,129.95 1631.28,125.93 1628.14,123.24 1632.26,122.91" fill="#4DBEEE" stroke="none"/>
<polygon points="1756.00,81.87 1757.59,85.69 1761.71,86.02 1758.57,88.71 1759.53,92.72 1756.00,90.57 1752.47,92.72 1753.43,88.71 1750.29,86.02 1754.41,85.69" fill="#4DBEEE" stroke="none"/>
<rect x="1278.4" y="39.0" width="241.5" height="40.0" fill="#fff" stroke="#262626" stroke-width="1.8"/>
<line x1="1282.70" y1="49.90" x2="1324.90" y2="49.90" stroke="#0072BD" stroke-width="1.9"/>
<circle cx="1303.80" cy="49.90" r="3.45" fill="none" stroke="#0072BD" stroke-width="2.9"/>
<text transform="translate(1328.00,55.90) scale(0.96,1.02)" class="lg">0.45</text>
<line x1="1282.70" y1="68.00" x2="1324.90" y2="68.00" stroke="#D95319" stroke-width="1.9"/>
<rect x="1300.45" y="64.65" width="6.70" height="6.70" fill="none" stroke="#D95319" stroke-width="1.8"/>
<text transform="translate(1328.00,74.00) scale(0.96,1.02)" class="lg">0.5</text>
<line x1="1363.80" y1="49.90" x2="1405.90" y2="49.90" stroke="#EDB120" stroke-width="1.9"/>
<polygon points="1384.85,54.65 1380.74,47.52 1388.96,47.52" fill="none" stroke="#EDB120" stroke-width="1.6" stroke-linejoin="miter"/>
<text transform="translate(1408.90,55.90) scale(0.96,1.02)" class="lg">0.6</text>
<line x1="1363.80" y1="68.00" x2="1405.90" y2="68.00" stroke="#7E2F8E" stroke-width="1.9"/>
<polygon points="1384.85,62.00 1386.44,65.82 1390.56,66.15 1387.42,68.83 1388.38,72.85 1384.85,70.70 1381.32,72.85 1382.28,68.83 1379.14,66.15 1383.26,65.82" fill="#7E2F8E" stroke="none"/>
<text transform="translate(1408.90,74.00) scale(0.96,1.02)" class="lg">0.7</text>
<line x1="1437.50" y1="49.90" x2="1479.30" y2="49.90" stroke="#77AC30" stroke-width="1.9"/>
<polygon points="1458.40,43.90 1459.99,47.72 1464.11,48.05 1460.97,50.73 1461.93,54.75 1458.40,52.60 1454.87,54.75 1455.83,50.73 1452.69,48.05 1456.81,47.72" fill="#77AC30" stroke="none"/>
<text transform="translate(1482.90,55.90) scale(0.96,1.02)" class="lg">0.8</text>
<line x1="1437.50" y1="68.00" x2="1479.30" y2="68.00" stroke="#4DBEEE" stroke-width="1.9"/>
<polygon points="1458.40,62.00 1459.99,65.82 1464.11,66.15 1460.97,68.83 1461.93,72.85 1458.40,70.70 1454.87,72.85 1455.83,68.83 1452.69,66.15 1456.81,65.82" fill="#4DBEEE" stroke="none"/>
<text transform="translate(1482.90,74.00) scale(0.96,1.02)" class="lg">LINE</text>
<line x1="1389.55" y1="374.1" x2="1389.55" y2="609.6" stroke="#d9d9d9" stroke-width="1.6"/>
<line x1="1511.70" y1="374.1" x2="1511.70" y2="609.6" stroke="#d9d9d9" stroke-width="1.6"/>
<line x1="1633.85" y1="374.1" x2="1633.85" y2="609.6" stroke="#d9d9d9" stroke-width="1.6"/>
<line x1="1267.4" y1="566.78" x2="1756.0" y2="566.78" stroke="#d9d9d9" stroke-width="1.6"/>
<line x1="1267.4" y1="523.96" x2="1756.0" y2="523.96" stroke="#d9d9d9" stroke-width="1.6"/>
<line x1="1267.4" y1="481.15" x2="1756.0" y2="481.15" stroke="#d9d9d9" stroke-width="1.6"/>
<line x1="1267.4" y1="438.33" x2="1756.0" y2="438.33" stroke="#d9d9d9" stroke-width="1.6"/>
<line x1="1267.4" y1="395.51" x2="1756.0" y2="395.51" stroke="#d9d9d9" stroke-width="1.6"/>
<line x1="1389.55" y1="609.6" x2="1389.55" y2="603.8000000000001" stroke="#262626" stroke-width="1.8"/>
<line x1="1389.55" y1="374.1" x2="1389.55" y2="379.90000000000003" stroke="#262626" stroke-width="1.8"/>
<line x1="1511.70" y1="609.6" x2="1511.70" y2="603.8000000000001" stroke="#262626" stroke-width="1.8"/>
<line x1="1511.70" y1="374.1" x2="1511.70" y2="379.90000000000003" stroke="#262626" stroke-width="1.8"/>
<line x1="1633.85" y1="609.6" x2="1633.85" y2="603.8000000000001" stroke="#262626" stroke-width="1.8"/>
<line x1="1633.85" y1="374.1" x2="1633.85" y2="379.90000000000003" stroke="#262626" stroke-width="1.8"/>
<line x1="1267.4" y1="566.78" x2="1273.2" y2="566.78" stroke="#262626" stroke-width="1.8"/>
<line x1="1756.0" y1="566.78" x2="1750.2" y2="566.78" stroke="#262626" stroke-width="1.8"/>
<line x1="1267.4" y1="523.96" x2="1273.2" y2="523.96" stroke="#262626" stroke-width="1.8"/>
<line x1="1756.0" y1="523.96" x2="1750.2" y2="523.96" stroke="#262626" stroke-width="1.8"/>
<line x1="1267.4" y1="481.15" x2="1273.2" y2="481.15" stroke="#262626" stroke-width="1.8"/>
<line x1="1756.0" y1="481.15" x2="1750.2" y2="481.15" stroke="#262626" stroke-width="1.8"/>
<line x1="1267.4" y1="438.33" x2="1273.2" y2="438.33" stroke="#262626" stroke-width="1.8"/>
<line x1="1756.0" y1="438.33" x2="1750.2" y2="438.33" stroke="#262626" stroke-width="1.8"/>
<line x1="1267.4" y1="395.51" x2="1273.2" y2="395.51" stroke="#262626" stroke-width="1.8"/>
<line x1="1756.0" y1="395.51" x2="1750.2" y2="395.51" stroke="#262626" stroke-width="1.8"/>
<rect x="1267.4" y="374.1" width="488.60" height="235.50" fill="none" stroke="#262626" stroke-width="2.0"/>
<text transform="translate(1260.55,617.05) scale(1,1.005)" text-anchor="end" class="tk">0.15</text>
<text transform="translate(1260.55,574.23) scale(1,1.005)" text-anchor="end" class="tk">0.25</text>
<text transform="translate(1260.55,531.41) scale(1,1.005)" text-anchor="end" class="tk">0.35</text>
<text transform="translate(1260.55,488.60) scale(1,1.005)" text-anchor="end" class="tk">0.45</text>
<text transform="translate(1260.55,445.78) scale(1,1.005)" text-anchor="end" class="tk">0.55</text>
<text transform="translate(1260.55,402.96) scale(1,1.005)" text-anchor="end" class="tk">0.65</text>
<text transform="translate(1266.65,634.15) scale(1,0.975)" text-anchor="middle" class="tk">1%</text>
<text transform="translate(1388.80,634.15) scale(1,0.975)" text-anchor="middle" class="tk">5%</text>
<text transform="translate(1510.95,634.15) scale(1,0.975)" text-anchor="middle" class="tk">10%</text>
<text transform="translate(1633.10,634.15) scale(1,0.975)" text-anchor="middle" class="tk">25%</text>
<text transform="translate(1755.25,634.15) scale(1,0.975)" text-anchor="middle" class="tk">50%</text>
<text x="1511.30" y="661.40" text-anchor="middle" class="xl">Fraction of Labeled Data</text>
<polyline points="1267.40,604.20 1389.55,564.77 1511.70,551.75 1633.85,534.84 1756.00,520.28" fill="none" stroke="#0072BD" stroke-width="1.9" stroke-linejoin="round"/>
<circle cx="1267.40" cy="604.20" r="3.45" fill="none" stroke="#0072BD" stroke-width="2.9"/>
<circle cx="1389.55" cy="564.77" r="3.45" fill="none" stroke="#0072BD" stroke-width="2.9"/>
<circle cx="1511.70" cy="551.75" r="3.45" fill="none" stroke="#0072BD" stroke-width="2.9"/>
<circle cx="1633.85" cy="534.84" r="3.45" fill="none" stroke="#0072BD" stroke-width="2.9"/>
<circle cx="1756.00" cy="520.28" r="3.45" fill="none" stroke="#0072BD" stroke-width="2.9"/>
<polyline points="1267.40,532.96 1389.55,452.89 1511.70,440.90 1633.85,429.16 1756.00,421.41" fill="none" stroke="#D95319" stroke-width="1.9" stroke-linejoin="round"/>
<rect x="1264.05" y="529.61" width="6.70" height="6.70" fill="none" stroke="#D95319" stroke-width="1.8"/>
<rect x="1386.20" y="449.54" width="6.70" height="6.70" fill="none" stroke="#D95319" stroke-width="1.8"/>
<rect x="1508.35" y="437.55" width="6.70" height="6.70" fill="none" stroke="#D95319" stroke-width="1.8"/>
<rect x="1630.50" y="425.81" width="6.70" height="6.70" fill="none" stroke="#D95319" stroke-width="1.8"/>
<rect x="1752.65" y="418.06" width="6.70" height="6.70" fill="none" stroke="#D95319" stroke-width="1.8"/>
<polyline points="1267.40,527.39 1389.55,453.31 1511.70,439.18 1633.85,428.78 1756.00,420.51" fill="none" stroke="#EDB120" stroke-width="1.9" stroke-linejoin="round"/>
<polygon points="1267.40,532.14 1263.29,525.01 1271.51,525.01" fill="none" stroke="#EDB120" stroke-width="1.6" stroke-linejoin="miter"/>
<polygon points="1389.55,458.06 1385.44,450.94 1393.66,450.94" fill="none" stroke="#EDB120" stroke-width="1.6" stroke-linejoin="miter"/>
<polygon points="1511.70,443.93 1507.59,436.81 1515.81,436.81" fill="none" stroke="#EDB120" stroke-width="1.6" stroke-linejoin="miter"/>
<polygon points="1633.85,433.53 1629.74,426.40 1637.96,426.40" fill="none" stroke="#EDB120" stroke-width="1.6" stroke-linejoin="miter"/>
<polygon points="1756.00,425.26 1751.89,418.14 1760.11,418.14" fill="none" stroke="#EDB120" stroke-width="1.6" stroke-linejoin="miter"/>
<polyline points="1267.40,529.74 1389.55,448.35 1511.70,434.90 1633.85,423.26 1756.00,413.19" fill="none" stroke="#7E2F8E" stroke-width="1.9" stroke-linejoin="round"/>
<polygon points="1267.40,523.74 1268.99,527.56 1273.11,527.89 1269.97,530.58 1270.93,534.60 1267.40,532.44 1263.87,534.60 1264.83,530.58 1261.69,527.89 1265.81,527.56" fill="#7E2F8E" stroke="none"/>
<polygon points="1389.55,442.35 1391.14,446.16 1395.26,446.49 1392.12,449.18 1393.08,453.20 1389.55,451.05 1386.02,453.20 1386.98,449.18 1383.84,446.49 1387.96,446.16" fill="#7E2F8E" stroke="none"/>
<polygon points="1511.70,428.90 1513.29,432.72 1517.41,433.05 1514.27,435.74 1515.23,439.76 1511.70,437.60 1508.17,439.76 1509.13,435.74 1505.99,433.05 1510.11,432.72" fill="#7E2F8E" stroke="none"/>
<polygon points="1633.85,417.26 1635.44,421.07 1639.56,421.40 1636.42,424.09 1637.38,428.11 1633.85,425.96 1630.32,428.11 1631.28,424.09 1628.14,421.40 1632.26,421.07" fill="#7E2F8E" stroke="none"/>
<polygon points="1756.00,407.19 1757.59,411.01 1761.71,411.34 1758.57,414.03 1759.53,418.05 1756.00,415.89 1752.47,418.05 1753.43,414.03 1750.29,411.34 1754.41,411.01" fill="#7E2F8E" stroke="none"/>
<polyline points="1267.40,530.47 1389.55,450.36 1511.70,436.61 1633.85,426.60 1756.00,417.39" fill="none" stroke="#77AC30" stroke-width="1.9" stroke-linejoin="round"/>
<polygon points="1267.40,524.47 1268.99,528.29 1273.11,528.62 1269.97,531.31 1270.93,535.33 1267.40,533.17 1263.87,535.33 1264.83,531.31 1261.69,528.62 1265.81,528.29" fill="#77AC30" stroke="none"/>
<polygon points="1389.55,444.36 1391.14,448.17 1395.26,448.51 1392.12,451.19 1393.08,455.21 1389.55,453.06 1386.02,455.21 1386.98,451.19 1383.84,448.51 1387.96,448.17" fill="#77AC30" stroke="none"/>
<polygon points="1511.70,430.61 1513.29,434.43 1517.41,434.76 1514.27,437.45 1515.23,441.47 1511.70,439.31 1508.17,441.47 1509.13,437.45 1505.99,434.76 1510.11,434.43" fill="#77AC30" stroke="none"/>
<polygon points="1633.85,420.60 1635.44,424.41 1639.56,424.74 1636.42,427.43 1637.38,431.45 1633.85,429.30 1630.32,431.45 1631.28,427.43 1628.14,424.74 1632.26,424.41" fill="#77AC30" stroke="none"/>
<polygon points="1756.00,411.39 1757.59,415.20 1761.71,415.54 1758.57,418.22 1759.53,422.24 1756.00,420.09 1752.47,422.24 1753.43,418.22 1750.29,415.54 1754.41,415.20" fill="#77AC30" stroke="none"/>
<polyline points="1267.40,533.47 1389.55,451.60 1511.70,432.80 1633.85,426.60 1756.00,412.25" fill="none" stroke="#4DBEEE" stroke-width="1.9" stroke-linejoin="round"/>
<polygon points="1267.40,527.47 1268.99,531.28 1273.11,531.62 1269.97,534.30 1270.93,538.32 1267.40,536.17 1263.87,538.32 1264.83,534.30 1261.69,531.62 1265.81,531.28" fill="#4DBEEE" stroke="none"/>
<polygon points="1389.55,445.60 1391.14,449.42 1395.26,449.75 1392.12,452.44 1393.08,456.46 1389.55,454.30 1386.02,456.46 1386.98,452.44 1383.84,449.75 1387.96,449.42" fill="#4DBEEE" stroke="none"/>
<polygon points="1511.70,426.80 1513.29,430.62 1517.41,430.95 1514.27,433.64 1515.23,437.66 1511.70,435.50 1508.17,437.66 1509.13,433.64 1505.99,430.95 1510.11,430.62" fill="#4DBEEE" stroke="none"/>
<polygon points="1633.85,420.60 1635.44,424.41 1639.56,424.74 1636.42,427.43 1637.38,431.45 1633.85,429.30 1630.32,431.45 1631.28,427.43 1628.14,424.74 1632.26,424.41" fill="#4DBEEE" stroke="none"/>
<polygon points="1756.00,406.25 1757.59,410.07 1761.71,410.40 1758.57,413.09 1759.53,417.11 1756.00,414.95 1752.47,417.11 1753.43,413.09 1750.29,410.40 1754.41,410.07" fill="#4DBEEE" stroke="none"/>
<rect x="1273.5" y="379.3" width="241.5" height="40.0" fill="#fff" stroke="#262626" stroke-width="1.8"/>
<line x1="1277.80" y1="390.20" x2="1320.00" y2="390.20" stroke="#0072BD" stroke-width="1.9"/>
<circle cx="1298.90" cy="390.20" r="3.45" fill="none" stroke="#0072BD" stroke-width="2.9"/>
<text transform="translate(1323.10,396.20) scale(0.96,1.02)" class="lg">0.45</text>
<line x1="1277.80" y1="408.30" x2="1320.00" y2="408.30" stroke="#D95319" stroke-width="1.9"/>
<rect x="1295.55" y="404.95" width="6.70" height="6.70" fill="none" stroke="#D95319" stroke-width="1.8"/>
<text transform="translate(1323.10,414.30) scale(0.96,1.02)" class="lg">0.5</text>
<line x1="1358.90" y1="390.20" x2="1401.00" y2="390.20" stroke="#EDB120" stroke-width="1.9"/>
<polygon points="1379.95,394.95 1375.84,387.82 1384.06,387.82" fill="none" stroke="#EDB120" stroke-width="1.6" stroke-linejoin="miter"/>
<text transform="translate(1404.00,396.20) scale(0.96,1.02)" class="lg">0.6</text>
<line x1="1358.90" y1="408.30" x2="1401.00" y2="408.30" stroke="#7E2F8E" stroke-width="1.9"/>
<polygon points="1379.95,402.30 1381.54,406.12 1385.66,406.45 1382.52,409.13 1383.48,413.15 1379.95,411.00 1376.42,413.15 1377.38,409.13 1374.24,406.45 1378.36,406.12" fill="#7E2F8E" stroke="none"/>
<text transform="translate(1404.00,414.30) scale(0.96,1.02)" class="lg">0.7</text>
<line x1="1432.60" y1="390.20" x2="1474.40" y2="390.20" stroke="#77AC30" stroke-width="1.9"/>
<polygon points="1453.50,384.20 1455.09,388.02 1459.21,388.35 1456.07,391.03 1457.03,395.05 1453.50,392.90 1449.97,395.05 1450.93,391.03 1447.79,388.35 1451.91,388.02" fill="#77AC30" stroke="none"/>
<text transform="translate(1478.00,396.20) scale(0.96,1.02)" class="lg">0.8</text>
<line x1="1432.60" y1="408.30" x2="1474.40" y2="408.30" stroke="#4DBEEE" stroke-width="1.9"/>
<polygon points="1453.50,402.30 1455.09,406.12 1459.21,406.45 1456.07,409.13 1457.03,413.15 1453.50,411.00 1449.97,413.15 1450.93,409.13 1447.79,406.45 1451.91,406.12" fill="#4DBEEE" stroke="none"/>
<text transform="translate(1478.00,414.30) scale(0.96,1.02)" class="lg">LINE</text>
<text transform="translate(-0.6,27.75) scale(1.06,1)" class="pl">A</text>
<text transform="translate(601,27.75) scale(0.978,1)" class="pl">B</text>
<text transform="translate(1197.6,27.7) scale(0.99,1.035)" class="pl">C</text>
<text transform="translate(21.2,220.6) rotate(-90) scale(1,1.04)" class="yl">MACRO  <tspan font-style="italic" dx="1.8">F</tspan><tspan dy="13.2" dx="-3.4" font-size="22.5">1</tspan></text>
<text transform="translate(21.2,562.0) rotate(-90) scale(1,1.04)" class="yl">MICRO  <tspan font-style="italic" dx="1.8">F</tspan><tspan dy="13.2" dx="-3.4" font-size="22.5">1</tspan></text>
<text x="210.3" y="703.8" class="tt" style="font-size:37.2px">DeepWalk</text>
<text x="799" y="703.8" class="tt" style="font-size:38px">Node2vec</text>
<text x="1459" y="703.8" class="tt" style="font-size:38px">LINE</text>
</svg>
</body></html>
